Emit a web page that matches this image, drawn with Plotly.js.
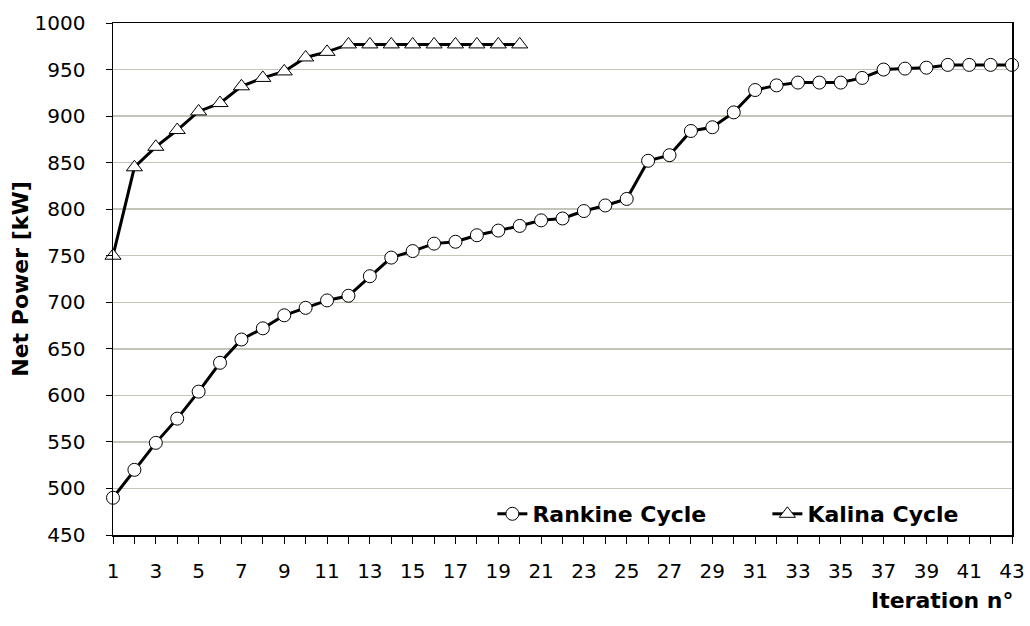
<!DOCTYPE html>
<html>
<head>
<meta charset="utf-8">
<script src="https://cdn.plot.ly/plotly-3.0.1.min.js"></script>
<style>html,body{margin:0;padding:0;background:#fff;}#chart{width:1030px;height:626px;}</style>
</head>
<body>
<div id="chart"></div>
<script>
const rankineIter = [1,2,3,4,5,6,7,8,9,10,11,12,13,14,15,16,17,18,19,20,21,22,23,24,25,26,27,28,29,30,31,32,33,34,35,36,37,38,39,40,41,42,43];
const rankinePower = [490,520,549,575,604,635,660,672,686,694,702,707,728,748,755,763,765,772,777,782,788,790,798,804,811,852,858,884,888,904,928,933,936,936,936,941,950,951,952,955,955,955,955];
const kalinaIter = [1,2,3,4,5,6,7,8,9,10,11,12,13,14,15,16,17,18,19,20];
const kalinaPower = [750,845,867,885,905,914,932,941,948,963,969,977,977,977,977,977,977,977,977,977];
const xTickVals = [1,2,3,4,5,6,7,8,9,10,11,12,13,14,15,16,17,18,19,20,21,22,23,24,25,26,27,28,29,30,31,32,33,34,35,36,37,38,39,40,41,42,43];
const xTickText = ['1','','3','','5','','7','','9','','11','','13','','15','','17','','19','','21','','23','','25','','27','','29','','31','','33','','35','','37','','39','','41','','43'];
const yTickVals = [450,500,550,600,650,700,750,800,850,900,950,1000];

const FONT = 'Century Gothic, DejaVu Sans, sans-serif';

const traces = [
  {
    x: rankineIter, y: rankinePower, name: 'Rankine Cycle',
    mode: 'lines+markers', cliponaxis: false,
    line: {color: '#000', width: 3},
    marker: {symbol: 'circle', size: 13, color: '#fff', line: {color: '#000', width: 1}}
  },
  {
    x: kalinaIter, y: kalinaPower, name: 'Kalina Cycle',
    mode: 'lines+markers', cliponaxis: false,
    line: {color: '#000', width: 3},
    marker: {symbol: 'triangle-up', size: 14, color: '#fff', line: {color: '#000', width: 1}}
  }
];

const layout = {
  width: 1030, height: 626,
  paper_bgcolor: '#fff', plot_bgcolor: '#fff',
  margin: {l: 113, r: 18, t: 23, b: 91, autoexpand: false},
  font: {family: FONT, color: '#000', size: 20},
  showlegend: true,
  legend: {
    orientation: 'h', x: 0.422, y: 0.0, xanchor: 'left', yanchor: 'bottom',
    bgcolor: 'rgba(255,255,255,0)', font: {family: FONT, size: 22, weight: 'bold', color: '#000'},
    tracegroupgap: 0, entrywidth: 230, entrywidthmode: 'pixels'
  },
  xaxis: {
    range: [1, 43], tickmode: 'array', tickvals: xTickVals, ticktext: xTickText,
    ticks: 'outside', ticklen: 7, tickwidth: 1, tickcolor: '#000',
    ticklabelstandoff: 10,
    showline: true, linecolor: '#000', linewidth: 1.5, mirror: true,
    showgrid: false, zeroline: false, automargin: false,
    tickfont: {family: FONT, size: 20, color: '#000'}
  },
  yaxis: {
    range: [450, 1000], tickmode: 'array', tickvals: yTickVals,
    ticks: 'outside', ticklen: 6, tickwidth: 1, tickcolor: '#000',
    ticklabelstandoff: 16,
    showline: true, linecolor: '#000', linewidth: 1.5, mirror: true,
    showgrid: true, gridcolor: '#c4c4b8', gridwidth: 1.5, zeroline: false, automargin: false,
    tickfont: {family: FONT, size: 20, color: '#000'},
    title: {text: 'Net Power [kW]', font: {family: FONT, size: 22, weight: 'bold', color: '#000'}, standoff: 0}
  },
  annotations: [
    {text: 'Iteration n°', xref: 'paper', yref: 'paper', x: 1.0, y: -0.102, xanchor: 'right', yanchor: 'top',
     showarrow: false, borderpad: 0, xshift: 2, font: {family: FONT, size: 22, weight: 'bold', color: '#000'}}
  ]
};

Plotly.newPlot('chart', traces, layout, {displayModeBar: false, staticPlot: true});
</script>
</body>
</html>
